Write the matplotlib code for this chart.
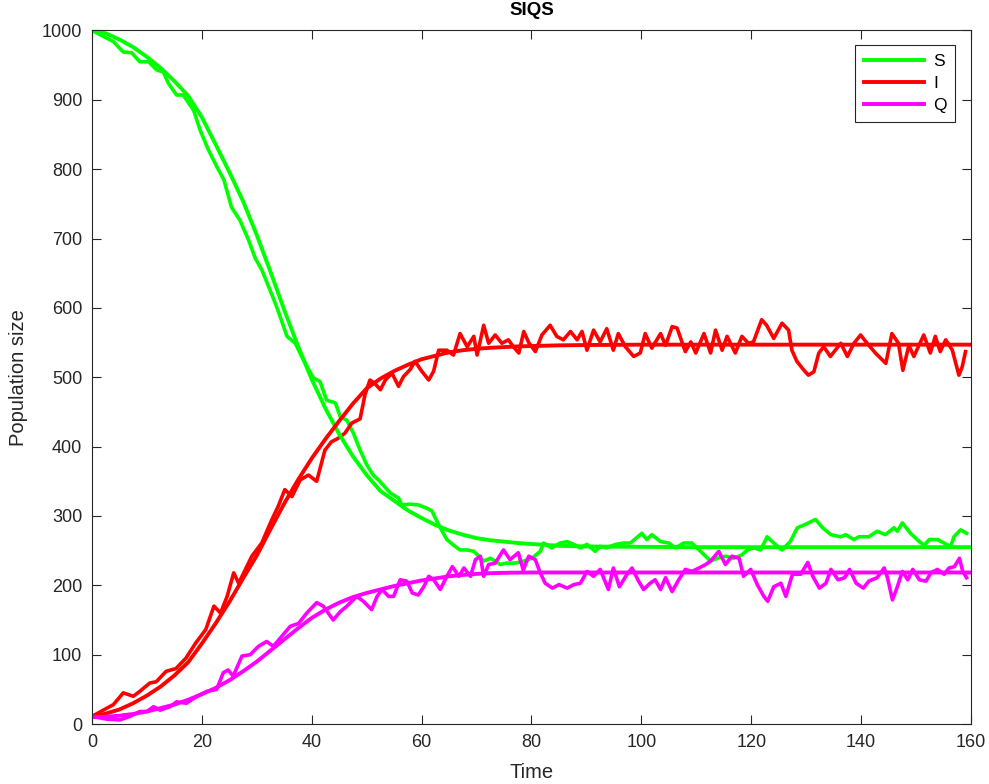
import matplotlib
matplotlib.use("Agg")
import matplotlib.pyplot as plt

# deterministic (ODE) trajectories
t_ode = [0, 2.5, 5, 7.5, 10, 12.5, 15, 17.5, 20, 22.5, 25, 27.5, 30, 32.5, 35, 37.5,
         40, 42.5, 45, 47.5, 50, 52.5, 55, 57.5, 60, 62.5, 65, 67.5, 70, 72.5, 75,
         77.5, 80, 85, 90, 100, 110, 120, 140, 160]
S_ode = [1000, 996, 987, 976, 962, 946, 927, 906, 875, 836, 796, 754, 705, 652, 597, 545,
         497, 455, 418, 386, 359, 336, 322, 308, 297, 287, 279, 273, 268, 265, 263,
         261, 259.5, 257, 256, 255.5, 255, 255, 255, 255]
I_ode = [10, 15, 21, 30, 41, 54, 70, 89, 116, 145, 176, 210, 243, 281, 318, 352,
         383, 411, 437, 462, 484, 498, 509, 518, 526, 531, 536, 539, 541, 542.5, 543.5,
         544.5, 545, 546, 546.5, 547, 547, 547, 547, 547]
Q_ode = [10, 10.5, 12, 14.5, 18, 23, 28, 35, 43, 52, 63, 76, 90, 106, 122, 138,
         153, 165, 175, 183, 189, 194, 199, 203, 207, 210, 213, 215, 216.5, 217.5, 218,
         218.3, 218.5, 218.5, 218.5, 218.5, 218.5, 218.5, 218.5, 218.5]

# stochastic realisation
t_S_run = [0, 2.7, 3.9, 5.7, 7.2, 8.7, 10.3, 11.8, 13.0, 13.9, 15.4, 16.6, 18.5, 19.7, 21.2,
           22.7, 24.0, 25.4, 26.9, 28.5, 29.7, 30.9, 32.4, 33.6, 35.5, 37.0, 38.5, 40.3, 41.5,
           42.7, 44.3, 45.2, 46.4, 47.6, 48.8, 50.0, 51.2, 52.4, 54.3, 55.8, 56.4, 57.9, 59.4,
           61.0, 61.9, 62.5, 63.4, 64.6, 65.8, 67.0, 68.3, 69.5, 70.4, 71.3, 72.5, 73.4, 74.3,
           75.5, 77.0, 78.6, 80.1, 81.6, 82.2, 83.7, 85.2, 86.5, 87.7, 88.9, 90.1, 91.6, 92.5,
           93.7, 95.3, 96.8, 98.0, 100.1, 101.0, 101.9, 103.5, 105.0, 106.2, 107.7, 109.2,
           110.5, 111.7, 112.6, 113.8, 115.3, 116.8, 118.3, 119.3, 120.5, 121.7, 122.9, 124.1,
           125.6, 127.1, 128.4, 129.9, 131.7, 133.0, 134.5, 136.3, 137.2, 138.7, 139.6, 141.4,
           142.9, 144.4, 146.0, 146.6, 147.5, 149.0, 150.6, 151.5, 152.4, 153.9, 155.1, 156.3,
           156.9, 158.1, 159.2]
S_run = [1000, 989, 984, 969, 968, 955, 955, 943, 940, 924, 907, 907, 885, 856, 828,
         804, 785, 745, 727, 698, 672, 655, 626, 602, 559, 549, 525, 499, 494,
         467, 463, 443, 438, 419, 395, 374, 359, 350, 333, 326, 316, 317, 316,
         311, 307, 297, 283, 266, 258, 251, 251, 249, 242, 235, 239, 235, 230,
         232, 232, 235, 239, 249, 261, 254, 261, 263, 259, 254, 259, 249, 256,
         254, 259, 261, 261, 275, 266, 273, 263, 261, 254, 261, 261,
         251, 242, 235, 239, 242, 239, 244, 251, 254, 251, 270, 261,
         251, 263, 283, 288, 295, 283, 273, 270, 273, 266, 270, 270,
         278, 273, 283, 278, 290, 275, 263, 258, 266, 266, 261, 256,
         270, 280, 275]

t_I_run = [0, 3.9, 5.7, 7.5, 8.7, 10.5, 11.7, 13.5, 15.3, 17.1, 18.9, 20.7, 22.2, 23.4, 24.6,
           25.8, 26.7, 29.1, 30.9, 32.7, 33.9, 35.1, 36.4, 37.9, 39.4, 40.9, 42.4, 43.6, 44.8,
           46.0, 47.3, 48.8, 49.7, 50.6, 51.5, 52.5, 53.4, 54.6, 55.8, 56.7, 57.9, 58.8, 60.0,
           61.3, 62.2, 63.1, 64.6, 65.8, 67.0, 68.3, 69.5, 70.1, 71.3, 72.2, 73.4, 74.6, 75.8,
           76.7, 77.7, 78.6, 79.5, 80.7, 81.9, 83.4, 84.6, 85.8, 87.1, 88.3, 89.2, 90.1, 91.3,
           92.5, 93.7, 94.9, 95.8, 97.1, 98.6, 99.8, 100.7, 101.9, 103.5, 104.4, 105.6, 106.5,
           108.0, 109.0, 109.9, 111.4, 112.6, 113.5, 114.7, 115.6, 117.1, 118.3, 119.5, 120.4,
           121.9, 122.8, 124.1, 125.6, 126.8, 127.4, 128.3, 129.5, 130.4, 131.4, 132.3, 133.2,
           134.4, 136.3, 137.5, 138.7, 139.9, 141.1, 142.6, 144.5, 145.6, 146.8, 147.6, 148.7,
           149.6, 151.4, 152.6, 153.5, 154.4, 155.4, 156.6, 157.8, 158.4, 159.0]
I_run = [11, 28, 45, 40, 47, 59, 61, 76, 80, 95, 117, 136, 170, 160, 184,
         218, 203, 242, 261, 294, 314, 338, 328, 352, 359, 350, 395, 407, 412,
         419, 434, 440, 475, 496, 491, 482, 496, 506, 487, 501, 511, 523, 509,
         496, 509, 539, 539, 532, 563, 544, 559, 532, 575, 549, 561, 549, 554,
         544, 535, 566, 550, 537, 561, 575, 559, 554, 566, 554, 566, 539, 568,
         551, 570, 539, 563, 544, 530, 535, 563, 542, 563, 546, 573, 571,
         537, 551, 535, 563, 535, 568, 539, 559, 535, 559, 549, 551,
         583, 575, 556, 578, 568, 539, 523, 511, 503, 508, 535, 544,
         530, 549, 530, 549, 561, 549, 535, 520, 563, 549, 510, 546,
         530, 561, 535, 559, 537, 554, 539, 503, 515, 537]

t_Q_run = [0, 2.7, 5.1, 6.9, 8.7, 10.0, 11.2, 12.4, 14.2, 15.4, 17.2, 19.1, 20.9, 22.7, 23.9,
           24.8, 25.7, 27.3, 28.8, 30.3, 31.8, 33.0, 34.5, 36.1, 37.6, 39.1, 40.9, 42.1, 43.9,
           45.2, 46.4, 48.2, 49.4, 50.9, 51.9, 52.8, 54.0, 54.9, 56.1, 57.3, 58.3, 59.4, 60.4,
           61.3, 62.2, 63.4, 64.6, 65.6, 66.8, 67.7, 68.9, 69.8, 70.7, 71.3, 72.2, 73.4, 74.9,
           76.1, 77.6, 78.5, 79.5, 80.7, 81.6, 82.5, 83.8, 85.0, 86.5, 87.7, 88.9, 90.1, 91.3,
           92.5, 94.0, 94.9, 96.0, 97.4, 98.3, 99.5, 100.4, 101.6, 102.5, 103.5, 104.4, 105.6,
           106.8, 108.0, 109.2, 110.5, 111.7, 112.6, 114.1, 115.3, 116.5, 117.8, 118.6, 119.9,
           121.1, 122.3, 123.0, 124.1, 125.4, 126.3, 127.5, 129.0, 130.3, 131.2, 132.4, 133.6,
           134.5, 135.8, 137.0, 137.9, 139.1, 140.4, 141.4, 142.9, 144.2, 144.8, 145.7, 146.6,
           147.5, 148.5, 149.4, 150.6, 151.8, 152.7, 153.9, 155.1, 156.0, 157.0, 157.9, 158.5,
           159.2]
Q_run = [11, 7, 6, 11, 18, 18, 25, 20, 25, 32, 30, 40, 47, 50, 74,
         78, 69, 98, 100, 112, 119, 112, 126, 141, 145, 160, 175, 170, 150,
         162, 170, 184, 177, 165, 184, 194, 184, 184, 208, 206, 189, 186, 198,
         213, 208, 194, 213, 227, 213, 225, 213, 237, 242, 213, 230, 232, 251,
         237, 247, 222, 242, 237, 218, 203, 196, 201, 196, 201, 203, 220, 213,
         223, 194, 225, 198, 216, 225, 206, 194, 203, 208, 194, 211, 191,
         208, 223, 220, 225, 230, 235, 249, 230, 242, 239, 213, 223,
         201, 184, 177, 198, 203, 184, 216, 216, 233, 213, 196, 203,
         223, 208, 211, 223, 203, 196, 206, 211, 225, 211, 179, 198,
         220, 208, 223, 208, 206, 218, 223, 216, 225, 227, 239, 220,
         211]

x_ticks = list(range(0, 161, 20))
y_ticks = list(range(0, 1001, 100))

green = '#00ff00'
red = '#ff0000'
magenta = '#ff00ff'
axcol = '#262626'

plt.rcParams['font.family'] = ['Liberation Sans', 'DejaVu Sans']

fig = plt.figure(figsize=(9.89, 7.84), dpi=100)
ax = fig.add_axes([0.093, 0.0765, 0.8888, 0.8846])

ax.plot(t_S_run, S_run, color=green, lw=2.6)
ax.plot(t_I_run, I_run, color=red, lw=2.6)
ax.plot(t_Q_run, Q_run, color=magenta, lw=2.6)
hS, = ax.plot(t_ode, S_ode, color=green, lw=2.8)
hI, = ax.plot(t_ode, I_ode, color=red, lw=2.8)
hQ, = ax.plot(t_ode, Q_ode, color=magenta, lw=2.8)

ax.set_xlim(0, 160)
ax.set_ylim(0, 1000)
ax.set_xticks(x_ticks)
ax.set_yticks(y_ticks)
ax.tick_params(direction='in', length=6.5, width=0.8, top=True, right=True,
               colors=axcol, labelsize=13, pad=7)
for sp in ax.spines.values():
    sp.set_color(axcol)
    sp.set_linewidth(0.8)

ax.set_title('SIQS', fontsize=13.5, fontweight='bold', pad=11)
ax.set_xlabel('Time', fontsize=14.5, color=axcol, labelpad=9)
ax.set_ylabel('Population size', fontsize=14.5, color=axcol, labelpad=10)

leg = ax.legend([hS, hI, hQ], ['S', 'I', 'Q'], loc='upper right',
                bbox_to_anchor=(0.982, 0.979), borderaxespad=0, fontsize=12.5,
                handlelength=3.5, handletextpad=0.5, labelspacing=0.4,
                fancybox=False, framealpha=1, borderpad=0.5)
leg.get_frame().set_edgecolor(axcol)
leg.get_frame().set_linewidth(0.8)

fig.savefig('out.png', dpi=100)
